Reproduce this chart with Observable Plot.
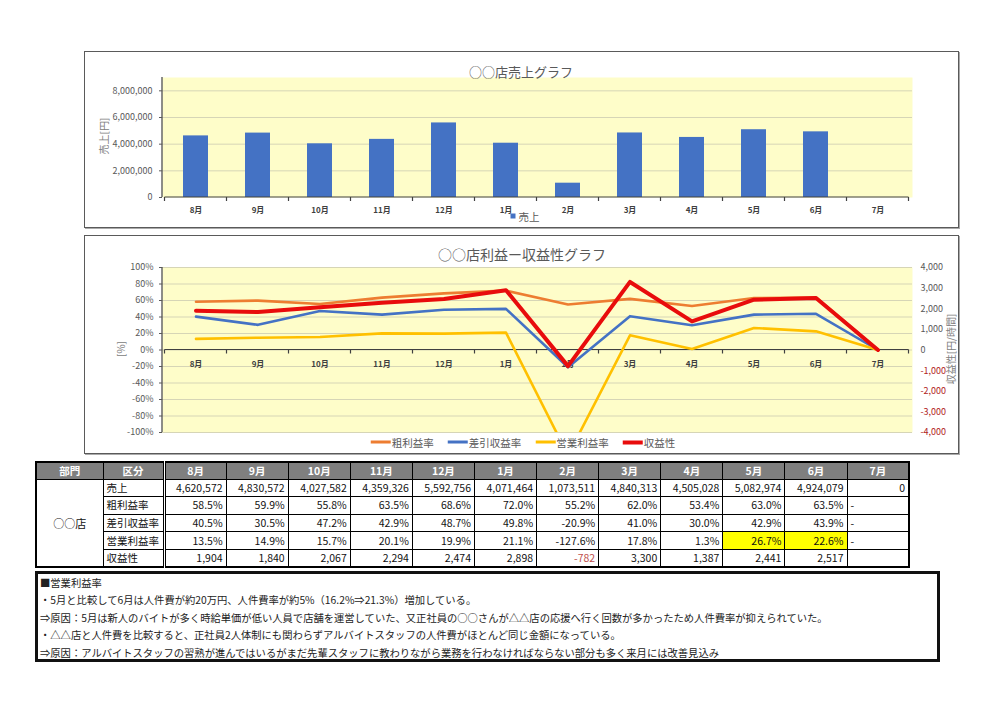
<!DOCTYPE html>
<html lang="ja"><head><meta charset="utf-8">
<script src="https://cdn.jsdelivr.net/npm/d3@7"></script>
<script src="https://cdn.jsdelivr.net/npm/@observablehq/plot@0.6"></script>
<style>
html,body{margin:0;padding:0;background:#fff;}
body{font-family:"Noto Sans CJK JP","Noto Sans",sans-serif;}
#page{position:relative;width:1000px;height:707px;overflow:hidden;}
.holder{position:absolute;}
.holder svg{display:block;}
.box{position:absolute;border:1px solid #5a5a5a;box-shadow:1px 1px 0 #aaa;box-sizing:border-box;pointer-events:none;}
.title{position:absolute;transform:translate(-50%,-50%);color:#595959;white-space:nowrap;}
.vlabel{position:absolute;transform:translate(-50%,-50%) rotate(-90deg);color:#808080;font-size:10px;white-space:nowrap;}
.legend{position:absolute;transform:translate(-50%,-50%);display:flex;align-items:center;gap:14px;color:#595959;font-size:10.5px;white-space:nowrap;}
.legend .item{display:flex;align-items:center;gap:1px;}
table.data{position:absolute;left:35px;top:461px;border-collapse:collapse;table-layout:fixed;font-size:10.5px;border:2px solid #000;color:#111;}
table.data td,table.data th{border:1px solid #000;padding:0 3px;white-space:nowrap;overflow:hidden;line-height:14px;}
table.data th{background:#7f7f7f;color:#fff;font-weight:bold;text-align:center;}
table.data td.num{text-align:right;}
table.data td.dash{text-align:left;}
table.data .dbl{border-left:3px double #000;}
.note{position:absolute;left:35px;top:571px;width:905px;height:91px;border:3px solid #111;box-sizing:border-box;font-size:10.3px;line-height:17.4px;padding:0 0 0 2px;color:#222;white-space:nowrap;}
</style></head>
<body><div id="page"></div>
<script>
// ---------------- data ----------------
const months = ["8月","9月","10月","11月","12月","1月","2月","3月","4月","5月","6月","7月"];
const sales = [4620572,4830572,4027582,4359326,5592756,4071464,1073511,4840313,4505028,5082974,4924079,0];
const grossMargin = [58.5,59.9,55.8,63.5,68.6,72.0,55.2,62.0,53.4,63.0,63.5,0];
const netMargin = [40.5,30.5,47.2,42.9,48.7,49.8,-20.9,41.0,30.0,42.9,43.9,0];
const opMargin = [13.5,14.9,15.7,20.1,19.9,21.1,-127.6,17.8,1.3,26.7,22.6,0];
const profitability = [1904,1840,2067,2294,2474,2898,-782,3300,1387,2441,2517,0];
const salesTicks = [0,2000000,4000000,6000000,8000000];
const pctTicks = [-100,-80,-60,-40,-20,0,20,40,60,80,100];
const profTicks = [-4000,-3000,-2000,-1000,0,1000,2000,3000,4000];
const seriesNames = ["粗利益率","差引収益率","営業利益率","収益性"];
const highlightMonths = ["5月","6月"];
const storeName = "○○店";
const title1 = "○○店売上グラフ";
const title2 = "○○店利益ー収益性グラフ";
const notes = [
  "■営業利益率",
  "・5月と比較して6月は人件費が約20万円、人件費率が約5%（16.2%⇒21.3%）増加している。",
  "⇒原因：5月は新人のバイトが多く時給単価が低い人員で店舗を運営していた、又正社員の○○さんが△△店の応援へ行く回数が多かったため人件費率が抑えられていた。",
  "・△△店と人件費を比較すると、正社員2人体制にも関わらずアルバイトスタッフの人件費がほとんど同じ金額になっている。",
  "⇒原因：アルバイトスタッフの習熟が進んではいるがまだ先輩スタッフに教わりながら業務を行わなければならない部分も多く来月には改善見込み"
];

// ---------------- styles ----------------
const FONT = '"Noto Sans CJK JP","Noto Sans",sans-serif';
const YELLOW = "#fefdc9", GRID = "#d6d5b6", AXIS = "#404040";
const BLUE = "#4472c4", ORANGE = "#ed7d31", GOLD = "#ffc000", RED = "#e80c0c";
const PROF_PER_PCT = 40; // right axis 4,000 <-> left axis 100%
const fmtInt = v => v.toLocaleString("en-US");

const page = d3.select("#page");

// category axis line at a given y value with boundary tick marks
function categoryAxis(yVal, tickLen) {
  return (index, scales) => {
    const x = scales.x, y = scales.y;
    const step = x.step(), off = (step - x.bandwidth()) / 2;
    const xs = months.map(m => x(m) - off);
    xs.push(xs[xs.length - 1] + step);
    const y0 = y(yVal);
    const g = d3.create("svg:g").attr("stroke", AXIS).attr("stroke-width", 1.2);
    g.append("line").attr("x1", xs[0]).attr("x2", xs[xs.length - 1]).attr("y1", y0).attr("y2", y0);
    for (const px of xs) g.append("line").attr("x1", px).attr("x2", px).attr("y1", y0).attr("y2", y0 + tickLen);
    return g.node();
  };
}
function leftAxisLine() {
  return (index, scales, values, dims) => {
    const [a, b] = scales.y.range();
    return d3.create("svg:line").attr("x1", dims.marginLeft).attr("x2", dims.marginLeft)
      .attr("y1", a).attr("y2", b).attr("stroke", AXIS).attr("stroke-width", 1.2).node();
  };
}

// ---------------- chart 1 : sales ----------------
const salesRows = months.map((m, i) => ({month: m, sales: sales[i]}));
const chart1 = Plot.plot({
  width: 875, height: 177,
  marginLeft: 78, marginRight: 47, marginTop: 26, marginBottom: 31,
  style: {fontFamily: FONT, background: "transparent", overflow: "visible"},
  x: {type: "band", domain: months, paddingInner: 0.59, paddingOuter: 0.295, axis: null},
  y: {domain: [0, 9000000], label: null},
  marks: [
    Plot.frame({fill: YELLOW, stroke: null}),
    Plot.gridY(salesTicks.filter(d => d > 0), {stroke: GRID, strokeOpacity: 1}),
    Plot.barY(salesRows, {x: "month", y: "sales", fill: BLUE}),
    categoryAxis(0, 4),
    leftAxisLine(),
    Plot.axisY({ticks: salesTicks, tickFormat: fmtInt, tickSize: 3, tickPadding: 7, fontSize: 9, color: "#595959", label: null}),
    Plot.text(months, {x: d => d, y: 0, dy: 13, fontSize: 8, fontWeight: "bold", fill: AXIS})
  ]
});
page.append("div").attr("class", "holder").style("left", "84px").style("top", "51px").node().appendChild(chart1);
page.append("div").attr("class", "box").style("left", "84px").style("top", "51px").style("width", "875px").style("height", "177px");
page.append("div").attr("class", "title").style("left", "521px").style("top", "71px").style("font-size", "13px").text(title1);
page.append("div").attr("class", "vlabel").style("left", "103px").style("top", "136px").text("売上[円]");
const lg1 = page.append("div").attr("class", "legend").style("left", "525px").style("top", "216px");
const it1 = lg1.append("div").attr("class", "item");
it1.append("span").style("display", "inline-block").style("width", "5px").style("height", "5px").style("background", BLUE).style("margin-right", "2px");
it1.append("span").text("売上");

// ---------------- chart 2 : profit ----------------
const seriesDefs = [
  {name: seriesNames[0], values: grossMargin, color: ORANGE, width: 2.6},
  {name: seriesNames[1], values: netMargin, color: BLUE, width: 2.6},
  {name: seriesNames[2], values: opMargin, color: GOLD, width: 2.6},
  {name: seriesNames[3], values: profitability.map(v => v / PROF_PER_PCT), color: RED, width: 4}
];
const chart2 = Plot.plot({
  width: 875, height: 219,
  marginLeft: 78, marginRight: 47, marginTop: 32, marginBottom: 22,
  style: {fontFamily: FONT, background: "transparent", overflow: "visible"},
  x: {type: "band", domain: months, paddingInner: 0.59, paddingOuter: 0.295, axis: null},
  y: {domain: [-100, 100], label: null},
  marks: [
    Plot.frame({fill: YELLOW, stroke: null}),
    Plot.gridY(pctTicks, {stroke: GRID, strokeOpacity: 1}),
    leftAxisLine(),
    Plot.axisY({ticks: pctTicks, tickFormat: d => d + "%", tickSize: 3, tickPadding: 6, fontSize: 9, color: "#595959", label: null}),
    Plot.axisY({anchor: "right", ticks: profTicks.filter(d => d >= 0).map(d => d / PROF_PER_PCT), tickFormat: d => fmtInt(d * PROF_PER_PCT), tickSize: 0, tickPadding: 8, fontSize: 9, color: "#595959", label: null}),
    Plot.axisY({anchor: "right", ticks: profTicks.filter(d => d < 0).map(d => d / PROF_PER_PCT), tickFormat: d => fmtInt(d * PROF_PER_PCT), tickSize: 0, tickPadding: 8, fontSize: 9, color: "#b01c1c", label: null}),
    categoryAxis(0, 4),
    Plot.text(months, {x: d => d, y: 0, dy: 14, fontSize: 8, fontWeight: "bold", fill: AXIS}),
    ...seriesDefs.map(s => Plot.line(months.map((m, i) => ({month: m, v: s.values[i]})),
      {x: "month", y: "v", stroke: s.color, strokeWidth: s.width, strokeLinejoin: "round", clip: true}))
  ]
});
page.append("div").attr("class", "holder").style("left", "84px").style("top", "235px").node().appendChild(chart2);
page.append("div").attr("class", "box").style("left", "84px").style("top", "235px").style("width", "875px").style("height", "219px");
page.append("div").attr("class", "title").style("left", "522px").style("top", "254px").style("font-size", "14px").text(title2);
page.append("div").attr("class", "vlabel").style("left", "120px").style("top", "349px").text("[%]");
page.append("div").attr("class", "vlabel").style("left", "950px").style("top", "349px").text("収益性[円/時間]");
const lg2 = page.append("div").attr("class", "legend").style("left", "523px").style("top", "442px");
seriesDefs.forEach(s => {
  const it = lg2.append("div").attr("class", "item");
  it.append("span").style("display", "inline-block").style("width", "20px").style("height", s.width + "px").style("background", s.color);
  it.append("span").text(s.name);
});

// ---------------- table ----------------
const pctFmt = v => v === 0 ? "-" : v.toFixed(1) + "%";
const tableRows = [
  {label: "売上", values: sales, fmt: fmtInt},
  {label: seriesNames[0], values: grossMargin, fmt: pctFmt},
  {label: seriesNames[1], values: netMargin, fmt: pctFmt},
  {label: seriesNames[2], values: opMargin, fmt: pctFmt, highlight: highlightMonths},
  {label: seriesNames[3], values: profitability, fmt: v => v === 0 ? "" : fmtInt(v), negColor: "#c0504d"}
];
const table = page.append("table").attr("class", "data");
const cg = table.append("colgroup");
cg.append("col").style("width", "67px");
cg.append("col").style("width", "61px");
months.forEach(() => cg.append("col").style("width", "62.1px"));
const hr = table.append("tr").style("height", "17px");
hr.append("th").text("部門");
hr.append("th").text("区分");
months.forEach((m, i) => hr.append("th").attr("class", i === 0 ? "dbl" : null).text(m));
tableRows.forEach((r, ri) => {
  const tr = table.append("tr").style("height", "17.6px");
  if (ri === 0) tr.append("td").attr("rowspan", tableRows.length).style("text-align", "center").style("font-size", "11px").text(storeName);
  tr.append("td").text(r.label);
  months.forEach((m, i) => {
    const v = r.values[i];
    const s = r.fmt(v);
    const td = tr.append("td").attr("class", (s === "-" ? "dash" : "num") + (i === 0 ? " dbl" : "")).text(s);
    if (r.highlight && r.highlight.includes(m)) td.style("background", "#ffff00");
    if (r.negColor && v < 0) td.style("color", r.negColor);
  });
});

// ---------------- notes ----------------
const note = page.append("div").attr("class", "note");
notes.forEach(t => note.append("div").text(t));
</script>
</body></html>
